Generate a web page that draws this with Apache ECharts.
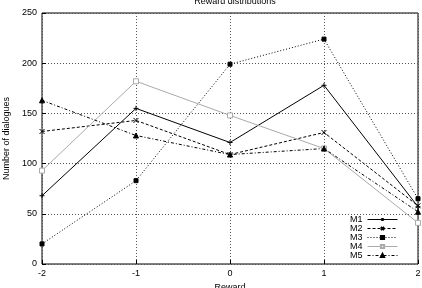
<!DOCTYPE html>
<html>
<head>
<meta charset="UTF-8">
<title>Reward distributions</title>
<script src="https://cdn.jsdelivr.net/npm/echarts@6/dist/echarts.min.js"></script>
<style>
  html, body { margin: 0; padding: 0; background: #fff; }
  #chart { width: 422px; height: 288px; }
</style>
</head>
<body>
<div id="chart"></div>
<script>
// data
var rewards = [-2, -1, 0, 1, 2];
var m1 = [68, 155, 121, 178, 57];
var m2 = [132, 143, 109, 131, 58];
var m3 = [20, 83, 199, 224, 65];
var m4 = [93, 182, 148, 115, 41];
var m5 = [163, 128, 109, 115, 52];
var names = ['M1', 'M2', 'M3', 'M4', 'M5'];

var plus = 'path://M0,5L10,5M5,0L5,10';
var cross = 'path://M0,0L10,10M10,0L0,10';

function pts(vals) {
  return rewards.map(function (r, i) { return [r, vals[i]]; });
}

function mk(name, vals, color, lineType, width, symbol, size, fill) {
  return {
    name: name,
    type: 'line',
    data: pts(vals),
    symbol: symbol,
    symbolSize: size,
    showAllSymbol: true,
    lineStyle: { color: color, type: lineType, width: width },
    itemStyle: { color: fill, borderColor: color, borderWidth: 1 },
    emphasis: { disabled: true },
    animation: false
  };
}

var font = 'Liberation Sans';
var chart = echarts.init(document.getElementById('chart'));
chart.setOption({
  animation: false,
  title: {
    text: 'Reward distributions',
    left: 230, textAlign: 'center', top: -8,
    textStyle: { fontFamily: font, fontSize: 9, fontWeight: 'normal', color: '#000' }
  },
  grid: {
    left: 42, right: 4, top: 13, bottom: 24,
    outerBoundsMode: 'none', containLabel: false,
    show: true, borderColor: '#000', borderWidth: 1
  },
  legend: {
    orient: 'vertical', right: 24, bottom: 28, padding: 0,
    align: 'right', itemGap: 0, itemWidth: 30, itemHeight: 4,
    textStyle: { fontFamily: font, fontSize: 9, lineHeight: 8, color: '#000' },
    lineStyle: { width: 1 },
    data: names
  },
  xAxis: {
    type: 'value', min: -2, max: 2, interval: 1,
    name: 'Reward', nameLocation: 'middle', nameGap: 18,
    nameTextStyle: { fontFamily: font, fontSize: 9, color: '#000' },
    axisLine: { show: false, onZero: false },
    axisTick: { inside: true, length: 4, lineStyle: { color: '#000' } },
    axisLabel: { fontFamily: font, fontSize: 9, color: '#000', margin: 5 },
    splitLine: { lineStyle: { color: '#555', type: [1, 2], width: 1 } }
  },
  yAxis: {
    type: 'value', min: 0, max: 250, interval: 50,
    name: 'Number of dialogues', nameLocation: 'middle', nameGap: 31,
    nameTextStyle: { fontFamily: font, fontSize: 9, color: '#000' },
    axisLine: { show: false, onZero: false },
    axisTick: { inside: true, length: 4, lineStyle: { color: '#000' } },
    axisLabel: { fontFamily: font, fontSize: 9, color: '#000', margin: 5 },
    splitLine: { lineStyle: { color: '#555', type: [1, 2], width: 1 } }
  },
  series: [
    mk('M1', m1, '#000', 'solid', 1, plus, 5, '#000'),
    mk('M2', m2, '#000', [3, 2], 1, cross, 5, '#000'),
    mk('M3', m3, '#000', [1, 2], 1, 'rect', 4, '#000'),
    mk('M4', m4, '#aaa', 'solid', 1, 'rect', 5, '#fff'),
    mk('M5', m5, '#000', [3, 2, 1, 2], 1, 'triangle', 5, '#000')
  ]
});
</script>
</body>
</html>
